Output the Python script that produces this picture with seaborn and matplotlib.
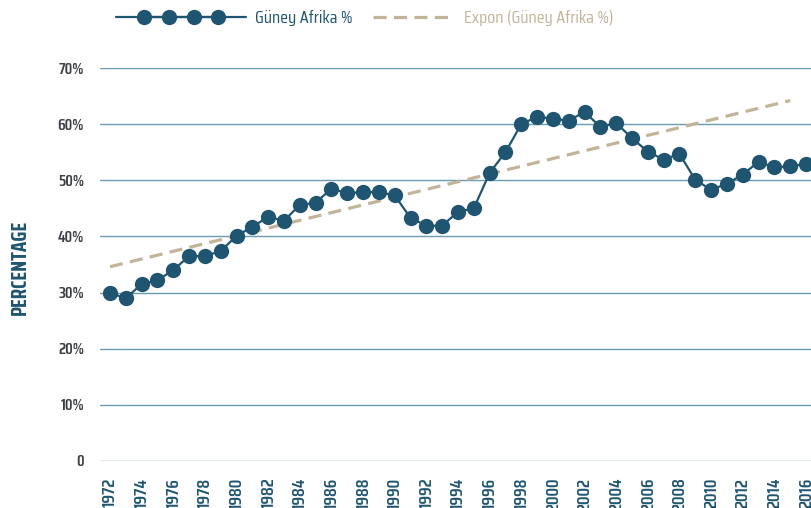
import numpy as np
import pandas as pd
import matplotlib
matplotlib.use('Agg')
import matplotlib.pyplot as plt
from matplotlib.lines import Line2D
from matplotlib.legend_handler import HandlerLine2D, HandlerTuple
import seaborn as sns

# ── Data ───────────────────────────────────────────────────────────────────────
years = list(range(1972, 2017))
share = [29.9, 29.0, 31.5, 32.2, 34.0, 36.5, 36.5, 37.4, 40.1, 41.7,
         43.5, 42.8, 45.6, 46.0, 48.5, 47.7, 47.9, 47.9, 47.3, 43.3,
         41.9, 41.9, 44.4, 45.0, 51.3, 55.0, 60.0, 61.3, 61.0, 60.6,
         62.2, 59.5, 60.2, 57.5, 55.1, 53.7, 54.7, 50.1, 48.3, 49.4,
         51.0, 53.3, 52.3, 52.5, 52.9]
# trendline (start / end)
trend_years = [1972, 2015]
trend_vals = [34.6, 64.2]

y_ticks = [0, 10, 20, 30, 40, 50, 60, 70]
y_tick_labels = ['0', '10%', '20%', '30%', '40%', '50%', '60%', '70%']
x_ticks = list(range(1972, 2017, 2))

series_name = 'Güney Afrika %'
trend_name = 'Expon (Güney Afrika %)'

df = pd.DataFrame({'year': years, 'share': share})
df_trend = pd.DataFrame({'year': trend_years, 'trend': trend_vals})

# ── Style ──────────────────────────────────────────────────────────────────────
LINE = '#1f5570'
TREND = '#c2b499'
GRID = '#6a9db2'
TICK = '#3b3f44'
MS = 11

sns.set_theme(style='white')
plt.rcParams['font.family'] = ['Saira Semi Condensed', 'Saira Condensed',
                               'Barlow Condensed', 'Roboto Condensed',
                               'IBM Plex Sans Condensed', 'DejaVu Sans']

fig = plt.figure(figsize=(8.12, 5.08), dpi=100)
ax = fig.add_axes([100 / 812, 47 / 508, 712 / 812, 393 / 508])

sns.lineplot(data=df_trend, x='year', y='trend', ax=ax, color=TREND, lw=2.3,
             label=trend_name, zorder=2)
trend_line = ax.lines[-1]
trend_line.set_dashes([4.1, 2.3])
sns.lineplot(data=df, x='year', y='share', ax=ax, color=LINE, lw=1.6,
             marker='o', markersize=MS, markeredgewidth=0,
             label=series_name, zorder=3, clip_on=False)
ax.get_legend().remove()

ax.set_xlim(1971.37, 2016.38)
ax.set_ylim(0, 70)
ax.set_yticks(y_ticks)
ax.set_yticklabels(y_tick_labels)
ax.set_xticks(x_ticks)
ax.set_xticklabels([str(y) for y in x_ticks], rotation=90)
ax.tick_params(axis='y', length=0, pad=11.5, labelsize=11.5, labelcolor=TICK)
ax.tick_params(axis='x', length=0, pad=12, labelsize=13, labelcolor=LINE)
for t in ax.get_xticklabels() + ax.get_yticklabels():
    t.set_fontweight(600)

ax.yaxis.grid(True, color=GRID, lw=1.0)
ax.xaxis.grid(False)
for s in ax.spines.values():
    s.set_visible(False)

ax.set_xlabel('')
ax.set_ylabel('')
fig.text(20 / 812, 1 - 267 / 508, 'PERCENTAGE', rotation=90, ha='center',
         va='center', fontsize=15, fontweight='bold', color=LINE)

# legend handles: full-width line with four inset markers, and the dashed trend
leg_line = Line2D([], [], color=LINE, lw=1.6)
leg_dots = Line2D([], [], color=LINE, lw=1.6, marker='o', markersize=MS,
                  markeredgewidth=0)
leg_trend = Line2D([], [], color=TREND, lw=2.3, dashes=[4.1, 2.3])

leg1 = fig.legend([(leg_line, leg_dots)], [series_name], loc='center left',
                  bbox_to_anchor=(100 / 812, 1 - 18 / 508), frameon=False,
                  fontsize=13, handlelength=7.2, handletextpad=0.5,
                  handler_map={tuple: HandlerTuple(ndivide=1, pad=0),
                               leg_dots: HandlerLine2D(numpoints=4, marker_pad=1.55)})
leg1.get_texts()[0].set_color(LINE)
leg2 = fig.legend([leg_trend], [trend_name], loc='center left',
                  bbox_to_anchor=(357 / 812, 1 - 18 / 508), frameon=False,
                  fontsize=13, handlelength=4.5, handletextpad=0.5)
leg2.get_texts()[0].set_color(TREND)

fig.savefig('out.png', dpi=100)
